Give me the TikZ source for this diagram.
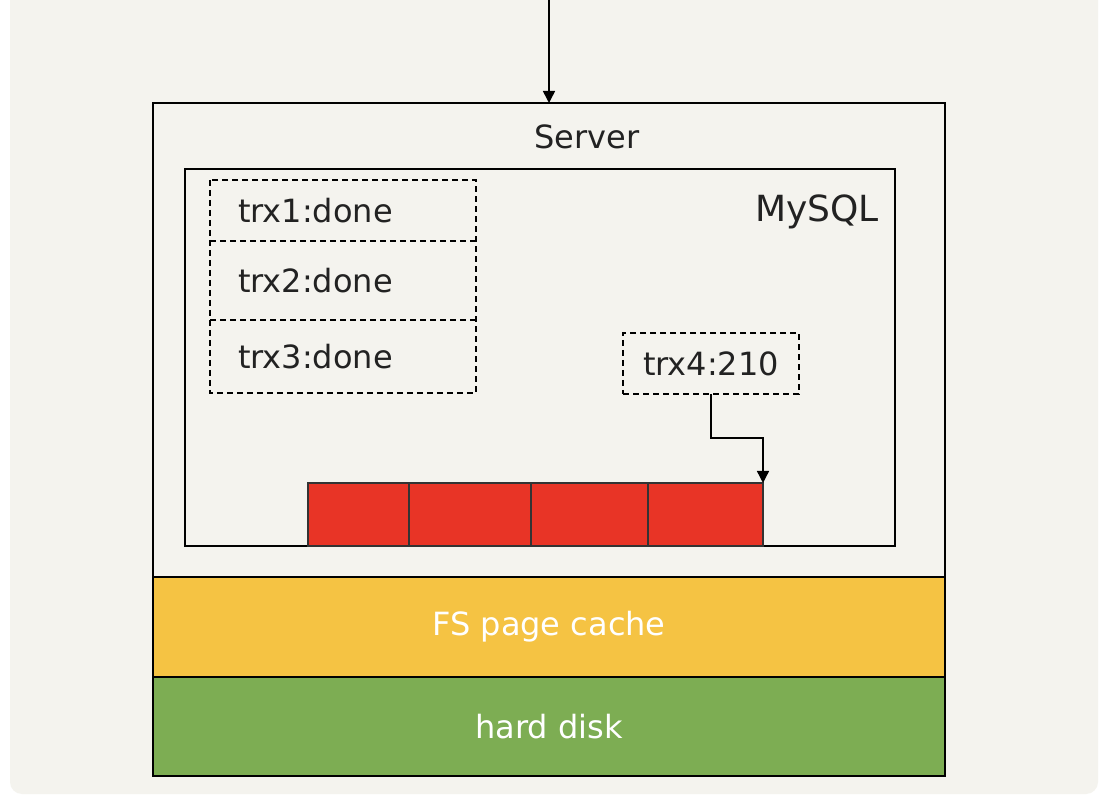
\documentclass[tikz,border=0pt]{standalone}
\usepackage{fontspec}
\setmainfont{DejaVu Sans}
\usetikzlibrary{arrows.meta}

\definecolor{bgpaper}{HTML}{F4F3EE}
\definecolor{logred}{HTML}{E83426}
\definecolor{cacheyellow}{HTML}{F5C343}
\definecolor{diskgreen}{HTML}{7DAD53}
\definecolor{inkgray}{HTML}{222222}

\tikzset{
  layer/.style={draw=black, line width=1.2pt, anchor=north west, inner sep=0pt, outer sep=0pt,
    minimum width=594pt},
  dashline/.style={draw=black, dash pattern=on 4.5pt off 3pt, line width=1pt},
  trxbox/.style={anchor=north west, inner ysep=0pt, inner xsep=21pt, outer sep=0pt,
    text width=157.5pt, align=left, minimum height=#1, text=inkgray,
    font=\fontsize{24}{28}\selectfont},
  logcell/.style={draw=black!80, line width=0.9pt, fill=logred, anchor=north west, inner sep=0pt,
    outer sep=0pt, minimum height=47.25pt, minimum width=#1},
  label/.style={text=inkgray, font=\fontsize{24}{28}\selectfont},
  arrow/.style={line width=1.2pt, -{Triangle[width=9pt,length=9pt]}}
}

\begin{document}
\begin{tikzpicture}[x=0.75pt,y=-0.75pt]
  \useasboundingbox (0,0) rectangle (1108,802);
  \clip (0,0) rectangle (1108,802);
  \fill[white] (0,0) rectangle (1108,802);
  \fill[bgpaper, rounded corners=9pt] (10,-20) rectangle (1098,794);

  % server and the layers under it
  \node[layer, minimum height=355.5pt] (server) at (153,103) {};
  \node[layer, fill=cacheyellow, minimum height=75pt, text=white,
    font=\fontsize{24}{28}\selectfont] (cache) at (153,577) {FS page cache};
  \node[layer, fill=diskgreen, minimum height=74.25pt, text=white,
    font=\fontsize{24}{28}\selectfont] (disk) at (153,677) {hard disk};
  \node[label] (serverlabel) at (587,137) {Server};

  % mysql process
  \node[layer, minimum width=532.5pt, minimum height=282.75pt] (mysql) at (185,169) {};
  \node[label, font=\fontsize{27}{30}\selectfont] (mysqllabel) at (817,212) {MySQL};

  \node[trxbox=45.75pt] (trx1) at (210,180) {trx1:done};
  \node[trxbox=59.25pt] (trx2) at (210,241) {trx2:done};
  \node[trxbox=54.75pt] (trx3) at (210,320) {trx3:done};
  \draw[dashline] (trx1.north west) rectangle (trx3.south east);
  \draw[dashline] (trx2.north west) -- (trx2.north east);
  \draw[dashline] (trx3.north west) -- (trx3.north east);

  \node[trxbox=45.75pt, dashline, text width=, inner xsep=0pt, minimum width=132pt,
    align=center] (trx4) at (623,333) {trx4:210};

  % redo log buffer
  \node[logcell=75.75pt] (cell1) at (308,483) {};
  \node[logcell=91.5pt] (cell2) at (409,483) {};
  \node[logcell=87.75pt] (cell3) at (531,483) {};
  \node[logcell=86.25pt] (cell4) at (648,483) {};

  \coordinate (client) at (549,0);
  \draw[arrow] (client) -- (server.north);
  \draw[arrow, line width=1pt] (trx4.south) -- ++(0,44) -| (cell4.north east);
\end{tikzpicture}
\end{document}
